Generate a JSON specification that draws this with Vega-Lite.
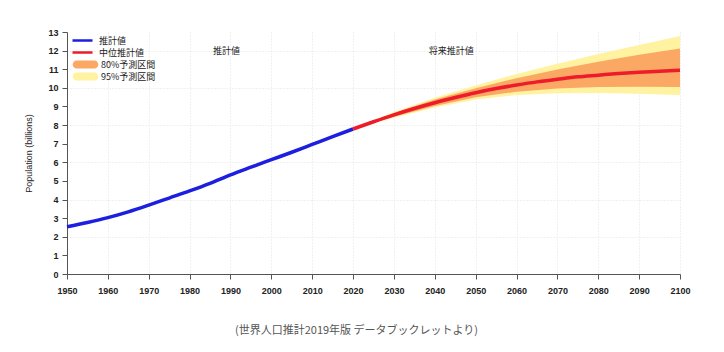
{
  "$schema": "https://vega.github.io/schema/vega-lite/v6.json",
  "width": 613,
  "height": 242,
  "autosize": "none",
  "padding": {"left": 67, "top": 32, "right": 44, "bottom": 78},
  "background": "white",
  "config": {
    "view": {"stroke": null},
    "font": "Liberation Sans",
    "axis": {"labelFont": "Liberation Sans", "titleFont": "Liberation Sans"}
  },
  "title": {
    "text": "(世界人口推計2019年版 データブックレットより)",
    "orient": "bottom",
    "anchor": "middle",
    "dx": -17,
    "offset": 30,
    "font": "Noto Sans CJK JP",
    "fontSize": 11,
    "fontWeight": "normal",
    "color": "#555"
  },
  "datasets": {
    "pop": [
      {"year": 1950, "pop": 2.54, "series": "推計値"},
      {"year": 1955, "pop": 2.77, "series": "推計値"},
      {"year": 1960, "pop": 3.03, "series": "推計値"},
      {"year": 1965, "pop": 3.34, "series": "推計値"},
      {"year": 1970, "pop": 3.70, "series": "推計値"},
      {"year": 1975, "pop": 4.08, "series": "推計値"},
      {"year": 1980, "pop": 4.46, "series": "推計値"},
      {"year": 1985, "pop": 4.87, "series": "推計値"},
      {"year": 1990, "pop": 5.33, "series": "推計値"},
      {"year": 1995, "pop": 5.74, "series": "推計値"},
      {"year": 2000, "pop": 6.14, "series": "推計値"},
      {"year": 2005, "pop": 6.54, "series": "推計値"},
      {"year": 2010, "pop": 6.96, "series": "推計値"},
      {"year": 2015, "pop": 7.38, "series": "推計値"},
      {"year": 2020, "pop": 7.79, "series": "推計値"},
      {"year": 2020, "pop": 7.79, "series": "中位推計値"},
      {"year": 2025, "pop": 8.18, "series": "中位推計値"},
      {"year": 2030, "pop": 8.55, "series": "中位推計値"},
      {"year": 2035, "pop": 8.89, "series": "中位推計値"},
      {"year": 2040, "pop": 9.20, "series": "中位推計値"},
      {"year": 2045, "pop": 9.48, "series": "中位推計値"},
      {"year": 2050, "pop": 9.74, "series": "中位推計値"},
      {"year": 2055, "pop": 9.96, "series": "中位推計値"},
      {"year": 2060, "pop": 10.15, "series": "中位推計値"},
      {"year": 2065, "pop": 10.32, "series": "中位推計値"},
      {"year": 2070, "pop": 10.46, "series": "中位推計値"},
      {"year": 2075, "pop": 10.59, "series": "中位推計値"},
      {"year": 2080, "pop": 10.68, "series": "中位推計値"},
      {"year": 2085, "pop": 10.77, "series": "中位推計値"},
      {"year": 2090, "pop": 10.84, "series": "中位推計値"},
      {"year": 2095, "pop": 10.89, "series": "中位推計値"},
      {"year": 2100, "pop": 10.95, "series": "中位推計値"}
    ],
    "band": [
      {"year": 2020, "lo80": 7.79, "hi80": 7.79, "lo95": 7.79, "hi95": 7.79},
      {"year": 2030, "lo80": 8.45, "hi80": 8.65, "lo95": 8.40, "hi95": 8.70},
      {"year": 2040, "lo80": 9.03, "hi80": 9.37, "lo95": 8.94, "hi95": 9.47},
      {"year": 2050, "lo80": 9.50, "hi80": 9.98, "lo95": 9.37, "hi95": 10.13},
      {"year": 2060, "lo80": 9.79, "hi80": 10.52, "lo95": 9.61, "hi95": 10.75},
      {"year": 2070, "lo80": 9.97, "hi80": 10.99, "lo95": 9.71, "hi95": 11.30},
      {"year": 2080, "lo80": 10.04, "hi80": 11.40, "lo95": 9.72, "hi95": 11.82},
      {"year": 2090, "lo80": 10.06, "hi80": 11.78, "lo95": 9.68, "hi95": 12.30},
      {"year": 2100, "lo80": 10.05, "hi80": 12.12, "lo95": 9.62, "hi95": 12.78}
    ]
  },
  "resolve": {"axis": {"y": "independent"}},
  "layer": [
    {
      "data": {"name": "band"},
      "mark": {"type": "area", "opacity": 1},
      "encoding": {
        "x": {
          "field": "year", "type": "quantitative",
          "scale": {"domain": [1950, 2100], "nice": false, "zero": false},
          "axis": {
            "title": null,
            "values": [1950, 1960, 1970, 1980, 1990, 2000, 2010, 2020, 2030, 2040, 2050, 2060, 2070, 2080, 2090, 2100],
            "format": "d",
            "labelFlush": false,
            "labelOverlap": false,
            "labelFontSize": 9,
            "labelFontWeight": "bold",
            "labelColor": "#222",
            "labelPadding": 7,
            "domainColor": "#555",
            "tickColor": "#555",
            "tickSize": 5,
            "grid": true,
            "gridColor": "#e2e2e2",
            "gridDash": [1, 2]
          }
        },
        "y": {
          "field": "lo95", "type": "quantitative",
          "scale": {"domain": [0, 13], "nice": false},
          "axis": {
            "orient": "left",
            "title": "Population (billions)",
            "titleFontSize": 9,
            "titleFontWeight": "normal",
            "titleColor": "#222",
            "titlePadding": 14,
            "values": [0, 1, 2, 3, 4, 5, 6, 7, 8, 9, 10, 11, 12, 13],
            "labelOverlap": false,
            "labelFontSize": 9,
            "labelFontWeight": "bold",
            "labelColor": "#222",
            "labelPadding": 4,
            "domainColor": "#555",
            "tickColor": "#555",
            "tickSize": 5,
            "grid": false
          }
        },
        "y2": {"field": "hi95"},
        "fill": {
          "datum": "95%予測区間",
          "type": "nominal",
          "scale": {"domain": ["80%予測区間", "95%予測区間"], "range": ["#fba864", "#fff2a0"]},
          "legend": {
            "title": null,
            "orient": "none",
            "legendX": 5,
            "legendY": 28,
            "symbolType": "M-2.2,-1H2.2A1,1 0 0 1 2.2,1H-2.2A1,1 0 0 1 -2.2,-1Z",
            "symbolSize": 64,
            "symbolStrokeWidth": 0,
            "symbolOffset": 9,
            "labelOffset": 11,
            "labelFont": "Noto Sans CJK JP",
            "labelFontSize": 9,
            "labelColor": "#222",
            "rowPadding": 2
          }
        }
      }
    },
    {
      "data": {"name": "band"},
      "mark": {"type": "area", "opacity": 1},
      "encoding": {
        "x": {"field": "year", "type": "quantitative"},
        "y": {
          "field": "lo80", "type": "quantitative",
          "axis": {
            "orient": "left",
            "values": [2, 4, 6, 8, 10, 12],
            "grid": true,
            "gridColor": "#e2e2e2",
            "gridDash": [1, 2],
            "labels": false,
            "ticks": false,
            "domain": false,
            "title": null
          }
        },
        "y2": {"field": "hi80"},
        "fill": {"datum": "80%予測区間", "type": "nominal"}
      }
    },
    {
      "mark": {"type": "rule", "color": "#d8d8d8", "strokeWidth": 2},
      "encoding": {"x": {"datum": 2020, "type": "quantitative"}}
    },
    {
      "data": {"name": "pop"},
      "mark": {"type": "line", "strokeWidth": 3.5, "interpolate": "monotone"},
      "encoding": {
        "x": {"field": "year", "type": "quantitative"},
        "y": {"field": "pop", "type": "quantitative", "axis": null},
        "detail": {"field": "series"},
        "stroke": {
          "field": "series", "type": "nominal",
          "scale": {"domain": ["推計値", "中位推計値"], "range": ["#1c1ee0", "#ee1b2a"]},
          "legend": {
            "title": null,
            "orient": "none",
            "legendX": 4,
            "legendY": 3,
            "symbolType": "M-2.5,0H2.5",
            "symbolSize": 64,
            "symbolStrokeWidth": 2.5,
            "symbolOffset": 6,
            "labelOffset": 11,
            "labelFont": "Noto Sans CJK JP",
            "labelFontSize": 9,
            "labelColor": "#222",
            "rowPadding": 1
          }
        }
      }
    },
    {
      "data": {"values": [{"label": "推計値"}]},
      "mark": {"type": "text", "font": "Noto Sans CJK JP", "fontSize": 9, "color": "#222"},
      "encoding": {
        "x": {"datum": 1989, "type": "quantitative"},
        "y": {"datum": 12, "type": "quantitative", "axis": null},
        "text": {"field": "label", "type": "nominal"}
      }
    },
    {
      "data": {"values": [{"label": "将来推計値"}]},
      "mark": {"type": "text", "font": "Noto Sans CJK JP", "fontSize": 9, "color": "#222"},
      "encoding": {
        "x": {"datum": 2044, "type": "quantitative"},
        "y": {"datum": 12, "type": "quantitative", "axis": null},
        "text": {"field": "label", "type": "nominal"}
      }
    }
  ]
}
